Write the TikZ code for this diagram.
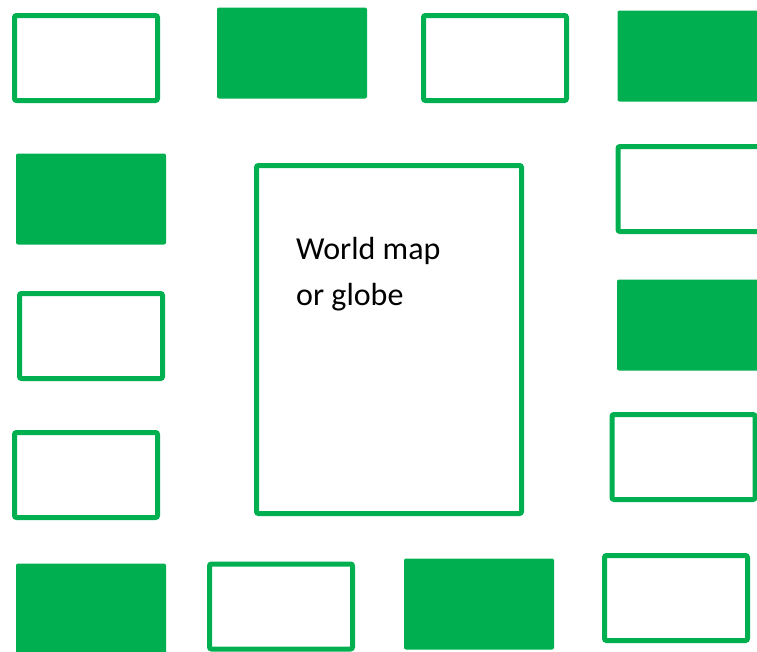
\documentclass[tikz,border=0pt]{standalone}
\usepackage{fontspec}
\setmainfont{Carlito}
\usetikzlibrary{positioning}
\definecolor{tilegreen}{HTML}{00B050}
\tikzset{
  tile/.style={rectangle, rounded corners=2pt, inner sep=0pt},
  blank/.style={tile, draw=tilegreen, line width=5pt, minimum width=143pt, minimum height=85pt},
  filled/.style={tile, fill=tilegreen, minimum width=150pt, minimum height=91pt},
  mapbox/.style={tile, draw=tilegreen, line width=5pt, minimum width=265pt, minimum height=348pt},
  caption/.style={inner sep=0pt, align=left, font=\fontsize{32}{46}\selectfont}
}

\begin{document}
\begin{tikzpicture}[x=1pt, y=-1pt]
\useasboundingbox (0,0) rectangle (757,651);
% top row
\node[blank] (top1) at (86,58) {};
\node[filled] (top2) at (292,53) {};
\node[blank] (top3) at (495,58) {};
\node[filled] (top4) at (692.5,56) {};
% left column
\node[filled] (left1) at (91,199) {};
\node[blank] (left2) at (91,336) {};
\node[blank] (left3) at (86,475) {};
% bottom row
\node[filled] (bot1) at (91,609) {};
\node[blank] (bot2) at (281,606.5) {};
\node[filled] (bot3) at (479,604) {};
\node[blank] (bot4) at (676,598) {};
% right column
\node[blank] (right1) at (689.5,189) {};
\node[filled] (right2) at (692,325) {};
\node[blank] (right3) at (683.5,457) {};
% centre
\node[mapbox] (map) at (389,339.5) {};
\node[caption, anchor=base west] (maptext) at (296,305) {World map\\or globe};
\end{tikzpicture}
\end{document}
